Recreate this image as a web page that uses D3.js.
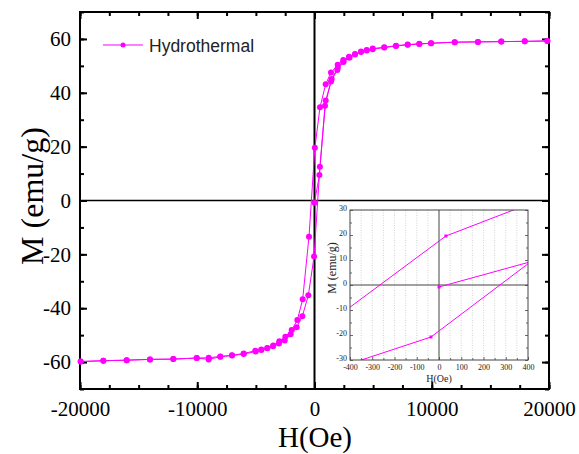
<!DOCTYPE html>
<html>
<head>
<meta charset="utf-8">
<script src="https://cdn.jsdelivr.net/npm/d3@7"></script>
<style>
  body { margin: 0; background: #fff; }
  svg { display: block; }
  text { fill: #000; }
</style>
</head>
<body>
<svg id="chart"></svg>
<script>
var width = 579;
var height = 454;
var serif = "'Liberation Serif', 'Times New Roman', serif";
var sans = "'Liberation Sans', Arial, sans-serif";

// virgin curve, H in Oe and M in emu/g
var initH = [0, 420, 896, 1407, 1945, 2456, 2942, 3454, 3966, 4452, 4963, 5950, 6950, 7950, 8940, 9940, 11960, 13940, 15930, 17930, 19860];
var initM = [-0.8, 9.5, 35.2, 44.2, 48.5, 51.4, 53.1, 54.2, 55.1, 55.7, 56.2, 56.8, 57.4, 57.8, 58.1, 58.4, 58.8, 58.9, 59.0, 59.1, 59.25];

// descending branch (+20000 -> -20000)
var descH = [19860, 17930, 15930, 13940, 11960, 9940, 8940, 7950, 6950, 5950, 4963, 4452, 3966, 3454, 2942, 2456, 1979, 1407, 955, 469, 31, -470, -1009, -1464, -1947, -2488, -3000, -3514, -4025, -4537, -5050, -6038, -7036, -8034, -9024, -10047, -12040, -14030, -16020, -18013, -19940];
var descM = [59.25, 59.1, 59.0, 58.9, 58.8, 58.4, 58.2, 57.9, 57.5, 56.9, 56.4, 55.9, 55.3, 54.4, 53.4, 52.2, 50.4, 47.5, 43.2, 34.6, 19.6, -13.5, -36.7, -44.4, -48.1, -50.6, -52.3, -53.8, -54.8, -55.3, -55.8, -56.8, -57.5, -57.9, -58.4, -58.5, -58.9, -59.0, -59.3, -59.5, -59.8];

// ascending branch (-20000 -> back up)
var ascH = [-19940, -18013, -16020, -14030, -12040, -10047, -9024, -8034, -7036, -6038, -5015, -4537, -4025, -3540, -3028, -2542, -2031, -1521, -1038, -526, -36, 460, 955, 1467, 1990, 2480, 2990];
var ascM = [-59.8, -59.5, -59.3, -59.0, -58.9, -58.5, -59.0, -58.0, -57.6, -57.0, -56.1, -55.5, -54.9, -54.1, -53.1, -52.0, -49.7, -47.1, -43.0, -35.2, -20.8, 12.5, 37.1, 45.1, 49.3, 51.6, 53.1];

var xTicks = [-20000, -10000, 0, 10000, 20000];
var yTicks = [-60, -40, -20, 0, 20, 40, 60];
var insetXTicks = [-400, -300, -200, -100, 0, 100, 200, 300, 400];
var insetYTicks = [-30, -20, -10, 0, 10, 20, 30];

var seriesName = "Hydrothermal";
var magenta = "#ff00ff";

function toPoints(hs, ms) {
  return hs.map(function(h, i) { return [h, ms[i]]; });
}
var branches = [toPoints(initH, initM), toPoints(descH, descM), toPoints(ascH, ascM)];
var allPoints = [].concat.apply([], branches);

var svg = d3.select("#chart").attr("width", width).attr("height", height);

var x = d3.scaleLinear().domain([-20000, 20000]).range([80, 549]);
var y = d3.scaleLinear().domain([-70, 70]).range([389, 12]);

function plain(d) { return String(d); }

// minor ticks every 2500 / 10, all sides, pointing inward
var minorX = d3.range(-20000, 20001, 2500);
var minorY = d3.range(-70, 71, 10);

function styleAxis(g, w) {
  g.select(".domain").remove();
  g.selectAll(".tick line").attr("stroke", "#000").attr("stroke-width", w);
  g.selectAll("text").style("font-family", serif).style("font-size", "21px");
}

svg.append("g").attr("transform", "translate(0,389)")
  .call(d3.axisBottom(x).tickValues(minorX).tickSize(-4).tickFormat(""))
  .call(styleAxis, 2);
svg.append("g").attr("transform", "translate(0,12)")
  .call(d3.axisTop(x).tickValues(minorX).tickSize(-4).tickFormat(""))
  .call(styleAxis, 2);
svg.append("g").attr("transform", "translate(80,0)")
  .call(d3.axisLeft(y).tickValues(minorY).tickSize(-4).tickFormat(""))
  .call(styleAxis, 2);
svg.append("g").attr("transform", "translate(549,0)")
  .call(d3.axisRight(y).tickValues(minorY).tickSize(-4).tickFormat(""))
  .call(styleAxis, 2);

svg.append("g").attr("transform", "translate(0,389)")
  .call(d3.axisBottom(x).tickValues(xTicks).tickSize(-7).tickPadding(12).tickFormat(plain))
  .call(styleAxis, 2);
svg.append("g").attr("transform", "translate(0,12)")
  .call(d3.axisTop(x).tickValues(xTicks).tickSize(-7).tickFormat(""))
  .call(styleAxis, 2);

svg.append("g").attr("transform", "translate(80,0)")
  .call(d3.axisLeft(y).tickValues(yTicks).tickSize(-7).tickPadding(9).tickFormat(plain))
  .call(styleAxis, 2);
svg.append("g").attr("transform", "translate(549,0)")
  .call(d3.axisRight(y).tickValues(yTicks).tickSize(-7).tickFormat(""))
  .call(styleAxis, 2);

// frame
svg.append("rect")
  .attr("x", 80).attr("y", 12).attr("width", 469).attr("height", 377)
  .attr("fill", "none").attr("stroke", "#000").attr("stroke-width", 2);

// zero lines
svg.append("line")
  .attr("x1", x(0)).attr("x2", x(0)).attr("y1", 12).attr("y2", 389)
  .attr("stroke", "#000").attr("stroke-width", 2);
svg.append("line")
  .attr("x1", 80).attr("x2", 549).attr("y1", y(0)).attr("y2", y(0))
  .attr("stroke", "#000").attr("stroke-width", 1.5);

// data
var line = d3.line().x(function(d) { return x(d[0]); }).y(function(d) { return y(d[1]); });
svg.append("g").selectAll("path")
  .data(branches)
  .enter().append("path")
  .attr("d", line)
  .attr("fill", "none")
  .attr("stroke", magenta)
  .attr("stroke-width", 1);

svg.append("g").selectAll("circle")
  .data(allPoints)
  .enter().append("circle")
  .attr("cx", function(d) { return x(d[0]); })
  .attr("cy", function(d) { return y(d[1]); })
  .attr("r", 3)
  .attr("fill", magenta);

// axis titles
svg.append("text")
  .attr("x", 315).attr("y", 447)
  .attr("text-anchor", "middle")
  .style("font-family", serif).style("font-size", "29px")
  .text("H(Oe)");
svg.append("text")
  .attr("transform", "translate(43,196) rotate(-90)")
  .attr("text-anchor", "middle")
  .style("font-family", serif).style("font-size", "32px")
  .text("M (emu/g)");

// legend
var legend = svg.append("g");
legend.append("line")
  .attr("x1", 103).attr("x2", 143).attr("y1", 45).attr("y2", 45)
  .attr("stroke", magenta).attr("stroke-width", 1);
legend.append("circle")
  .attr("cx", 123).attr("cy", 45).attr("r", 2.5).attr("fill", magenta);
legend.append("text")
  .attr("x", 149).attr("y", 51.5)
  .style("font-family", sans).style("font-size", "17.5px")
  .style("fill", "#222")
  .text(seriesName);

// ---- inset ----
var ix = d3.scaleLinear().domain([-400, 400]).range([350, 528]);
var iy = d3.scaleLinear().domain([-30, 30]).range([360, 210]);
var inset = svg.append("g");

inset.append("rect")
  .attr("x", 350).attr("y", 210).attr("width", 178).attr("height", 150)
  .attr("fill", "#fff");

// dotted grid every 50 Oe
inset.append("g").selectAll("line")
  .data(d3.range(-350, 351, 50).filter(function(v) { return v !== 0; }))
  .enter().append("line")
  .attr("x1", function(d) { return ix(d); }).attr("x2", function(d) { return ix(d); })
  .attr("y1", 210).attr("y2", 360)
  .attr("stroke", "#c8c8c8").attr("stroke-width", 0.8)
  .attr("stroke-dasharray", "1,1.5");

inset.append("line")
  .attr("x1", ix(0)).attr("x2", ix(0)).attr("y1", 210).attr("y2", 360)
  .attr("stroke", "#444").attr("stroke-width", 1);
inset.append("line")
  .attr("x1", 350).attr("x2", 528).attr("y1", iy(0)).attr("y2", iy(0))
  .attr("stroke", "#444").attr("stroke-width", 1);

function styleInset(g) {
  g.select(".domain").remove();
  g.selectAll(".tick line").attr("stroke", "#444").attr("stroke-width", 0.8);
  g.selectAll("text").style("font-family", serif).style("font-size", "8px").style("fill", "#222");
}
var insetMinorY = d3.range(-25, 26, 10);
var insetMinorX = d3.range(-350, 351, 100);

inset.append("g").attr("transform", "translate(0,360)")
  .call(d3.axisBottom(ix).tickValues(insetXTicks).tickSize(-3).tickPadding(4).tickFormat(plain))
  .call(styleInset);
inset.append("g").attr("transform", "translate(0,360)")
  .call(d3.axisBottom(ix).tickValues(insetMinorX).tickSize(-2).tickFormat(""))
  .call(styleInset);
inset.append("g").attr("transform", "translate(350,0)")
  .call(d3.axisLeft(iy).tickValues(insetYTicks).tickSize(-3).tickPadding(3).tickFormat(plain))
  .call(styleInset)
  .call(function(g) { g.selectAll("text").attr("dy", "0.1em"); });
inset.append("g").attr("transform", "translate(350,0)")
  .call(d3.axisLeft(iy).tickValues(insetMinorY).tickSize(-2).tickFormat(""))
  .call(styleInset);
inset.append("g").attr("transform", "translate(528,0)")
  .call(d3.axisRight(iy).tickValues(insetYTicks).tickSize(-3).tickFormat(""))
  .call(styleInset);
inset.append("g").attr("transform", "translate(528,0)")
  .call(d3.axisRight(iy).tickValues(insetMinorY).tickSize(-2).tickFormat(""))
  .call(styleInset);

inset.append("clipPath").attr("id", "inset-clip")
  .append("rect").attr("x", 350).attr("y", 210).attr("width", 178).attr("height", 150);

var iline = d3.line().x(function(d) { return ix(d[0]); }).y(function(d) { return iy(d[1]); });
var insetData = inset.append("g").attr("clip-path", "url(#inset-clip)");
insetData.selectAll("path")
  .data(branches)
  .enter().append("path")
  .attr("d", iline)
  .attr("fill", "none")
  .attr("stroke", magenta)
  .attr("stroke-width", 1);
insetData.selectAll("rect")
  .data(allPoints.filter(function(d) { return Math.abs(d[0]) <= 400 && Math.abs(d[1]) <= 30; }))
  .enter().append("rect")
  .attr("x", function(d) { return ix(d[0]) - 1.5; })
  .attr("y", function(d) { return iy(d[1]) - 1.5; })
  .attr("width", 3).attr("height", 3)
  .attr("fill", magenta);

inset.append("rect")
  .attr("x", 350).attr("y", 210).attr("width", 178).attr("height", 150)
  .attr("fill", "none").attr("stroke", "#444").attr("stroke-width", 1);

inset.append("text")
  .attr("x", 439).attr("y", 382)
  .attr("text-anchor", "middle")
  .style("font-family", serif).style("font-size", "10px").style("fill", "#222")
  .text("H(Oe)");
inset.append("text")
  .attr("transform", "translate(336,268) rotate(-90)")
  .attr("text-anchor", "middle")
  .style("font-family", serif).style("font-size", "12px").style("fill", "#222")
  .text("M (emu/g)");
</script>
</body>
</html>
